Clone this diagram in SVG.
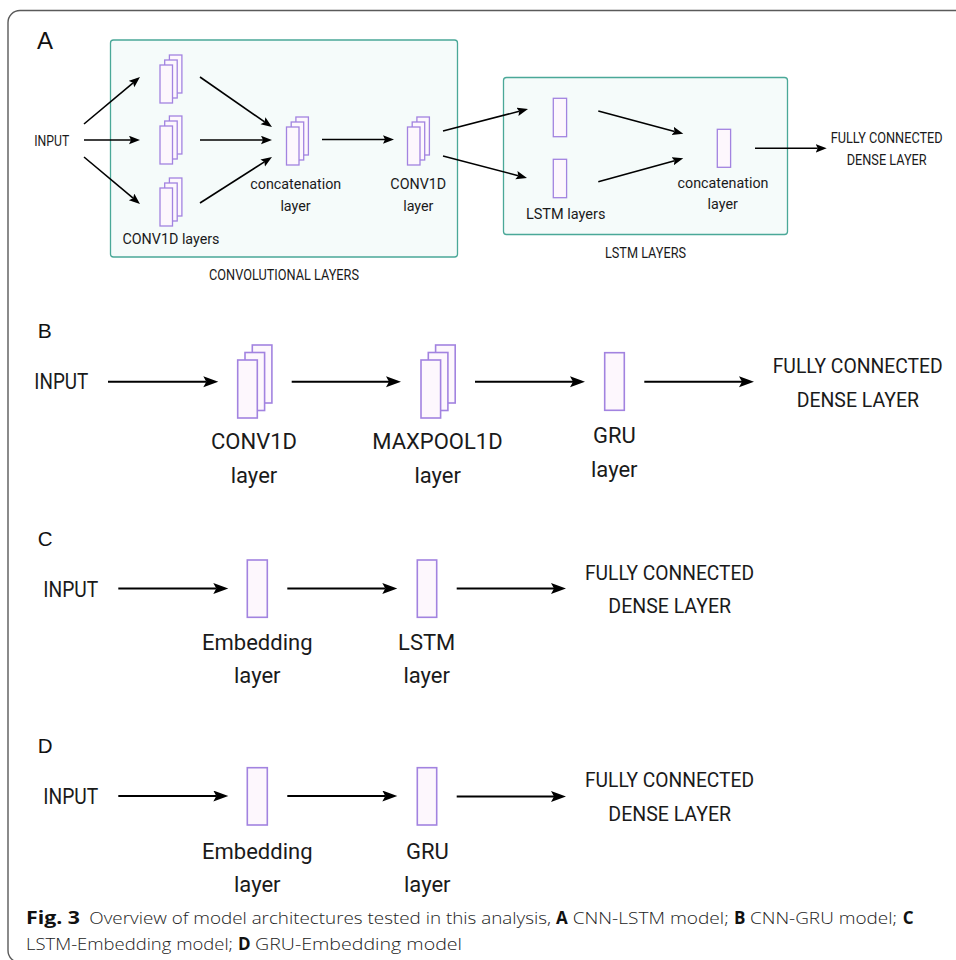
<svg xmlns="http://www.w3.org/2000/svg" width="956" height="960" viewBox="0 0 956 960">
<defs>
<style>
.lbl{font-family:Roboto,"Liberation Sans",sans-serif;fill:#1a1a1a;text-anchor:middle}
.pl{font-family:"Liberation Sans",Arial,sans-serif;fill:#111}
.box{fill:#f5fbfa;stroke:#4aa898;stroke-width:1.3}
.la{fill:#fdf7fd;stroke:#a283e0;stroke-width:1.3}
.lb{fill:#fdf7fd;stroke:#a283e0;stroke-width:1.6}
.ea{stroke:#000;stroke-width:1.6;fill:none;marker-end:url(#ahA)}
.eb{stroke:#000;stroke-width:2;fill:none;marker-end:url(#ahB)}
.cap{font-family:"Open Sans","Noto Sans",sans-serif;font-size:17px;fill:#222;font-weight:300}
.cap .b{font-weight:700;fill:#111}
</style>
<marker id="ahA" markerUnits="userSpaceOnUse" markerWidth="12" markerHeight="10" refX="2" refY="4.25" orient="auto"><path d="M0,0 L11,4.25 L0,8.5 L2,4.25 Z" fill="#000"/></marker>
<marker id="ahB" markerUnits="userSpaceOnUse" markerWidth="16" markerHeight="12" refX="3" refY="5.5" orient="auto"><path d="M0,0 L15,5.5 L0,11 L3,5.5 Z" fill="#000"/></marker>
</defs>
<rect x="8" y="10.5" width="960" height="952" rx="12" fill="#fff" stroke="#5a5a5a" stroke-width="1.4"/>

<!-- Panel A -->
<g id="panelA">
<text class="pl" x="37" y="49.3" font-size="24">A</text>
<g id="conv-box"><rect class="box" x="110.5" y="40" width="347" height="217" rx="3"/>
<text class="lbl" x="284" y="280" font-size="14.5" textLength="150" lengthAdjust="spacingAndGlyphs">CONVOLUTIONAL LAYERS</text></g>
<g id="lstm-box"><rect class="box" x="503.5" y="77.5" width="284" height="157" rx="3"/>
<text class="lbl" x="645.5" y="258.3" font-size="14.5" textLength="81" lengthAdjust="spacingAndGlyphs">LSTM LAYERS</text></g>
<g id="a-input"><text class="lbl" x="51.8" y="146" font-size="14.5" textLength="35" lengthAdjust="spacingAndGlyphs">INPUT</text></g>
<g id="a-conv-top"><rect class="la" x="169.4" y="55" width="12.5" height="38"/><rect class="la" x="164.7" y="60" width="12.5" height="38"/><rect class="la" x="160" y="65" width="12.5" height="38"/></g>
<g id="a-conv-mid"><rect class="la" x="169.4" y="116" width="12.5" height="38"/><rect class="la" x="164.7" y="121" width="12.5" height="38"/><rect class="la" x="160" y="126" width="12.5" height="38"/></g>
<g id="a-conv-bot"><rect class="la" x="169.4" y="178" width="12.5" height="38"/><rect class="la" x="164.7" y="183" width="12.5" height="38"/><rect class="la" x="160" y="188" width="12.5" height="38"/>
<text class="lbl" x="171" y="244" font-size="14.3">CONV1D layers</text></g>
<g id="a-concat1"><rect class="la" x="295.9" y="117" width="12.5" height="38"/><rect class="la" x="291.2" y="122" width="12.5" height="38"/><rect class="la" x="286.5" y="127" width="12.5" height="38"/>
<text class="lbl" x="295.8" y="189.3" font-size="14.3">concatenation</text><text class="lbl" x="295.5" y="210.5" font-size="14.3">layer</text></g>
<g id="a-conv1d"><rect class="la" x="416.9" y="117" width="12.5" height="38"/><rect class="la" x="412.2" y="122" width="12.5" height="38"/><rect class="la" x="407.5" y="127" width="12.5" height="38"/>
<text class="lbl" x="418.3" y="189.3" font-size="14.3">CONV1D</text><text class="lbl" x="418.3" y="210.5" font-size="14.3">layer</text></g>
<g id="a-lstm1"><rect class="la" x="553.3" y="98.3" width="13.3" height="38.4"/></g>
<g id="a-lstm2"><rect class="la" x="553.3" y="159.3" width="13.3" height="38.4"/>
<text class="lbl" x="565.7" y="219.3" font-size="14.5">LSTM layers</text></g>
<g id="a-concat2"><rect class="la" x="717.3" y="129.3" width="13.3" height="38"/>
<text class="lbl" x="723" y="188.3" font-size="14.3">concatenation</text><text class="lbl" x="722.7" y="209.3" font-size="14.3">layer</text></g>
<g id="a-dense"><text class="lbl" x="886.7" y="143.3" font-size="14" textLength="112" lengthAdjust="spacingAndGlyphs">FULLY CONNECTED</text>
<text class="lbl" x="886.7" y="165" font-size="14" textLength="80" lengthAdjust="spacingAndGlyphs">DENSE LAYER</text></g>
</g>

<!-- Panel B -->
<g id="panelB">
<text class="pl" x="37.7" y="338.3" font-size="21">B</text>
<g id="b-input"><text class="lbl" x="61.3" y="389.3" font-size="22" textLength="54" lengthAdjust="spacingAndGlyphs">INPUT</text></g>
<g id="b-conv1d"><rect class="lb" x="252.3" y="345" width="19.6" height="58"/><rect class="lb" x="245" y="352.5" width="19.6" height="58"/><rect class="lb" x="237.7" y="360" width="19.6" height="58"/>
<text class="lbl" x="254" y="449.3" font-size="22">CONV1D</text><text class="lbl" x="254" y="483" font-size="22">layer</text></g>
<g id="b-maxpool"><rect class="lb" x="435.6" y="345" width="19.6" height="58"/><rect class="lb" x="428.3" y="352.5" width="19.6" height="58"/><rect class="lb" x="421" y="360" width="19.6" height="58"/>
<text class="lbl" x="437.5" y="449.3" font-size="22">MAXPOOL1D</text><text class="lbl" x="437.7" y="483" font-size="22">layer</text></g>
<g id="b-gru"><rect class="lb" x="604.7" y="352.7" width="19.6" height="57.6"/>
<text class="lbl" x="614.3" y="443.3" font-size="22">GRU</text><text class="lbl" x="614.3" y="477" font-size="22">layer</text></g>
<g id="b-dense"><text class="lbl" x="857.7" y="373.3" font-size="21" textLength="170" lengthAdjust="spacingAndGlyphs">FULLY CONNECTED</text>
<text class="lbl" x="857.8" y="406.7" font-size="21" textLength="122.3" lengthAdjust="spacingAndGlyphs">DENSE LAYER</text></g>
</g>

<!-- Panel C -->
<g id="panelC">
<text class="pl" x="37.7" y="546" font-size="20.5">C</text>
<g id="c-input"><text class="lbl" x="70.8" y="596.7" font-size="22" textLength="55" lengthAdjust="spacingAndGlyphs">INPUT</text></g>
<g id="c-embed"><rect class="lb" x="247.3" y="560" width="20" height="57.3"/>
<text class="lbl" x="257.3" y="650" font-size="22">Embedding</text><text class="lbl" x="257.3" y="683.3" font-size="22">layer</text></g>
<g id="c-lstm"><rect class="lb" x="417.3" y="560" width="19.4" height="57.3"/>
<text class="lbl" x="426.7" y="650" font-size="22">LSTM</text><text class="lbl" x="426.7" y="683.3" font-size="22">layer</text></g>
<g id="c-dense"><text class="lbl" x="669.5" y="580" font-size="21" textLength="169" lengthAdjust="spacingAndGlyphs">FULLY CONNECTED</text>
<text class="lbl" x="669.7" y="613.3" font-size="21" textLength="122.7" lengthAdjust="spacingAndGlyphs">DENSE LAYER</text></g>
</g>

<!-- Panel D -->
<g id="panelD">
<text class="pl" x="37.7" y="752.7" font-size="20.5">D</text>
<g id="d-input"><text class="lbl" x="70.8" y="804" font-size="22" textLength="55" lengthAdjust="spacingAndGlyphs">INPUT</text></g>
<g id="d-embed"><rect class="lb" x="247.3" y="767.7" width="20" height="57.3"/>
<text class="lbl" x="257.3" y="859" font-size="22">Embedding</text><text class="lbl" x="257.3" y="892" font-size="22">layer</text></g>
<g id="d-gru"><rect class="lb" x="417.3" y="767.7" width="19.4" height="57.3"/>
<text class="lbl" x="427.3" y="859" font-size="22">GRU</text><text class="lbl" x="427.3" y="892" font-size="22">layer</text></g>
<g id="d-dense"><text class="lbl" x="669.5" y="786.7" font-size="21" textLength="169" lengthAdjust="spacingAndGlyphs">FULLY CONNECTED</text>
<text class="lbl" x="669.7" y="821" font-size="21" textLength="122.7" lengthAdjust="spacingAndGlyphs">DENSE LAYER</text></g>
</g>

<!-- Connectors -->
<g id="connectors">
<path class="ea" d="M84,124 L133.1,82.8"/>
<path class="ea" d="M84,140 L131,140"/>
<path class="ea" d="M84,157 L133.1,198.2"/>
<path class="ea" d="M200,77 L264.6,121.9"/>
<path class="ea" d="M200,140 L263,140"/>
<path class="ea" d="M200,203 L264.4,161.9"/>
<path class="ea" d="M322,139.5 L385,139.5"/>
<path class="ea" d="M443,131 L519.3,111.3"/>
<path class="ea" d="M443,156 L518.3,175.7"/>
<path class="ea" d="M598.3,111 L674.6,131.4"/>
<path class="ea" d="M598.3,181.7 L674.6,160.7"/>
<path class="ea" d="M755,148.3 L817.7,148.3"/>
<path class="eb" d="M108,381.7 L206.3,381.7"/>
<path class="eb" d="M291.7,381.7 L389,381.7"/>
<path class="eb" d="M475,381.7 L573,381.7"/>
<path class="eb" d="M644.3,381.7 L742,381.7"/>
<path class="eb" d="M118.3,588.5 L216.3,588.5"/>
<path class="eb" d="M287.3,588.5 L385.3,588.5"/>
<path class="eb" d="M456.7,588.5 L554,588.5"/>
<path class="eb" d="M118.3,796 L216.3,796"/>
<path class="eb" d="M287.3,796 L385.3,796"/>
<path class="eb" d="M456.7,796.5 L554,796.5"/>
</g>

<!-- Caption -->
<g id="caption">
<text class="cap" y="924.3"><tspan class="b" x="26" textLength="54" lengthAdjust="spacingAndGlyphs">Fig. 3</tspan><tspan x="89.3" textLength="461.7" lengthAdjust="spacingAndGlyphs">Overview of model architectures tested in this analysis,</tspan><tspan class="b" x="556">A</tspan><tspan x="572.7" textLength="156" lengthAdjust="spacingAndGlyphs">CNN-LSTM model;</tspan><tspan class="b" x="734">B</tspan><tspan x="750" textLength="147" lengthAdjust="spacingAndGlyphs">CNN-GRU model;</tspan><tspan class="b" x="902.7">C</tspan></text>
<text class="cap" y="950"><tspan x="26" textLength="207" lengthAdjust="spacingAndGlyphs">LSTM-Embedding model;</tspan><tspan class="b" x="238">D</tspan><tspan x="255" textLength="207" lengthAdjust="spacingAndGlyphs">GRU-Embedding model</tspan></text>
</g>
</svg>
